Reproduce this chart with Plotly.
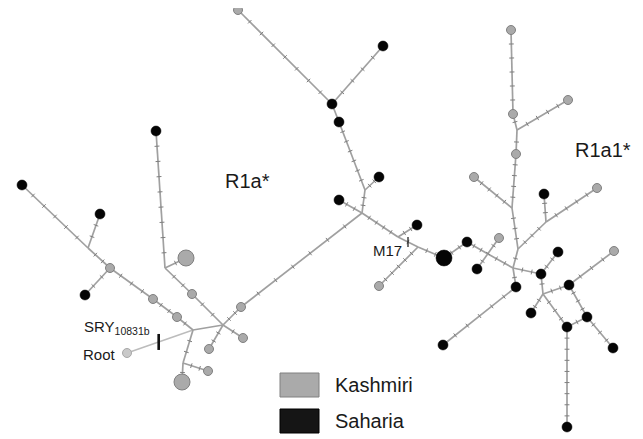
import math
import plotly.graph_objects as go

# ---------------- data ----------------
# population: K = Kashmiri, S = Saharia, J = median vector (no sample), R = root
node_ids = ["root", "j1", "j2", "k_a", "k_b", "k_c", "j3", "k_d", "k_e", "k_f",
            "j4", "k_g", "s_a", "k_h", "k_i", "k_j", "j5", "s_b", "s_c", "s_d",
            "c", "j6", "s_e", "s_f", "s_g", "s_h", "k_k", "s_i", "j7", "s_j",
            "j8", "k_l", "s_big", "s_k", "j9", "k_m", "s_l", "j10", "s_m", "s_n",
            "s_o", "j11", "j13", "k_r", "k_n", "j12", "k_o", "k_p", "k_q", "j14",
            "k_s", "s_p", "s_q", "j15", "s_r", "k_t", "s_s", "s_t", "s_u", "s_v", "s_w"]
node_x = [127, 193, 223, 241, 243, 209, 183, 182, 208, 192,
          165, 186, 156, 177, 153, 110, 88, 22, 100, 85,
          362, 365, 379, 339, 339, 332, 238, 383, 398, 417,
          418, 379, 444, 467, 488, 499, 477, 513, 541, 516,
          443, 518, 512, 474, 516, 517, 513, 568, 511, 546,
          597, 544, 558, 543, 569, 614, 531, 567, 587, 613, 567]
node_y = [353, 330, 325, 307, 338, 349, 363, 382, 371, 294,
          268, 258, 131, 317, 299, 268, 248, 185, 214, 295,
          213, 190, 177, 200, 122, 104, 10, 46, 237, 225,
          247, 286, 258, 242, 254, 238, 269, 268, 274, 287,
          345, 249, 208, 177, 154, 130, 114, 100, 30, 222,
          188, 194, 252, 294, 285, 251, 313, 327, 317, 348, 427]
node_pop = ["R", "J", "J", "K", "K", "K", "J", "K", "K", "K",
            "J", "K", "S", "K", "K", "K", "J", "S", "S", "S",
            "J", "J", "S", "S", "S", "S", "K", "S", "J", "S",
            "J", "K", "S", "S", "J", "K", "S", "J", "S", "S",
            "S", "J", "J", "K", "K", "J", "K", "K", "K", "J",
            "K", "S", "S", "J", "S", "K", "S", "S", "S", "S", "S"]
node_big = {"k_d", "k_g", "s_big"}

# edges: (from, to, number of mutation steps marked on the link)
edge_from = ["j1", "j2", "k_a", "j2", "j2", "j1", "j3", "j3", "j2", "k_f",
             "j4", "j4", "j1", "k_h", "k_i", "k_j", "j5", "j5", "k_j", "c",
             "j6", "j6", "s_g", "s_h", "s_h", "c", "c", "j7", "j7", "j8",
             "j8", "s_big", "s_k", "j9", "k_m", "j10", "j10", "s_n", "j10", "j11",
             "j13", "j13", "k_n", "j12", "j12", "k_o", "j11", "j14", "j14", "s_m",
             "s_m", "j15", "s_r", "j15", "j15", "s_r", "s_t", "s_u", "s_t"]
edge_to = ["j2", "k_a", "c", "k_b", "k_c", "j3", "k_d", "k_e", "k_f", "j4",
           "k_g", "s_a", "k_h", "k_i", "k_j", "j5", "s_b", "s_c", "s_d", "j6",
           "s_e", "s_g", "s_h", "k_k", "s_i", "s_f", "j7", "s_j", "j8", "k_l",
           "s_big", "s_k", "j9", "j10", "s_l", "s_m", "s_n", "s_o", "j11", "j13",
           "k_r", "k_n", "j12", "k_o", "k_p", "k_q", "j14", "k_s", "s_p", "s_q",
           "j15", "s_r", "k_t", "s_s", "s_t", "s_u", "s_u", "s_v", "s_w"]
edge_steps = [0, 2, 6, 1, 2, 2, 1, 2, 2, 2,
              1, 8, 1, 2, 3, 2, 5, 2, 2, 2,
              2, 6, 0, 7, 4, 2, 4, 2, 1, 5,
              2, 2, 2, 2, 3, 2, 1, 5, 1, 3,
              4, 4, 1, 1, 4, 5, 3, 4, 2, 2,
              1, 2, 3, 2, 3, 3, 1, 3, 8]

root_link = ("root", "j1")
mutation_labels = ["SRY<sub>10831b</sub>", "M17"]

clade_labels = ["R1a*", "R1a1*"]
clade_x = [247, 603]
clade_y = [181, 150]

legend_names = ["Kashmiri", "Saharia"]

# ---------------- build ----------------
pos = {n: (x, y) for n, x, y in zip(node_ids, node_x, node_y)}
EDGE_COL = "#a0a0a0"
K_FILL, K_LINE = "#aaaaaa", "#808080"
S_FILL = "#050505"
FONT = "Liberation Sans, Arial, Helvetica, sans-serif"

fig = go.Figure()

rx0, ry0 = pos[root_link[0]]
rx1, ry1 = pos[root_link[1]]
fig.add_trace(go.Scatter(x=[rx0, rx1], y=[ry0, ry1], mode="lines",
                         line=dict(color="#bcbcbc", width=1.4), hoverinfo="skip"))

ex, ey = [], []
tx, ty, tang = [], [], []
for a, b, n in zip(edge_from, edge_to, edge_steps):
    x0, y0 = pos[a]
    x1, y1 = pos[b]
    ex += [x0, x1, None]
    ey += [y0, y1, None]
    ang = math.degrees(math.atan2(y1 - y0, x1 - x0))
    for i in range(1, n + 1):
        t = i / (n + 1)
        tx.append(x0 + (x1 - x0) * t)
        ty.append(y0 + (y1 - y0) * t)
        tang.append(ang)

fig.add_trace(go.Scatter(x=ex, y=ey, mode="lines", cliponaxis=False,
                         line=dict(color=EDGE_COL, width=1.7), hoverinfo="skip"))
fig.add_trace(go.Scatter(x=tx, y=ty, mode="markers", hoverinfo="skip",
                         marker=dict(symbol="line-ns", size=3.5, angle=tang, opacity=1,
                                     line=dict(color="#7f7f7f", width=1))))

# mutation bars (SRY and M17)
sx, sy = pos["root"]
jx, jy = pos["j1"]
bx = sx + (jx - sx) * 0.48
by = sy + (jy - sy) * 0.48
fig.add_trace(go.Scatter(x=[bx, bx], y=[by - 8, by + 8], mode="lines",
                         line=dict(color="#111111", width=2.6), hoverinfo="skip"))
ax_, ay_ = pos["j7"]
bx2, by2 = pos["j8"]
mx = ax_ + (bx2 - ax_) * 0.5
my = ay_ + (by2 - ay_) * 0.5
fig.add_trace(go.Scatter(x=[mx, mx], y=[my - 5, my + 5], mode="lines",
                         line=dict(color="#111111", width=1.2), hoverinfo="skip"))

# nodes
for pop in ["R", "K", "S"]:
    xs, ys, sz = [], [], []
    for n, x, y, p in zip(node_ids, node_x, node_y, node_pop):
        if p == pop:
            xs.append(x)
            ys.append(y)
            sz.append(16 if n in node_big else (10 if pop == "S" else 9))
    if pop == "S":
        mk = dict(color=S_FILL, size=sz, opacity=1, line=dict(color="#000000", width=0.5))
    elif pop == "K":
        mk = dict(color=K_FILL, size=sz, opacity=1, line=dict(color=K_LINE, width=1))
    else:
        mk = dict(color="#c9c9c9", size=sz, opacity=1, line=dict(color="#a8a8a8", width=1))
    fig.add_trace(go.Scatter(x=xs, y=ys, mode="markers", marker=mk, cliponaxis=False,
                             hoverinfo="skip"))

# text labels
for t, x, y in zip(clade_labels, clade_x, clade_y):
    fig.add_annotation(x=x, y=y, text=t, showarrow=False,
                       font=dict(family=FONT, size=20, color="#1a1a1a"))
fig.add_annotation(x=82, y=327, text=mutation_labels[0], showarrow=False,
                   xanchor="left", yanchor="middle",
                   font=dict(family=FONT, size=15, color="#1a1a1a"))
fig.add_annotation(x=118, y=354, text="Root", showarrow=False,
                   xanchor="right", yanchor="middle",
                   font=dict(family=FONT, size=15, color="#1a1a1a"))
fig.add_annotation(x=404, y=250, text=mutation_labels[1], showarrow=False,
                   xanchor="right", yanchor="middle",
                   font=dict(family=FONT, size=15, color="#1a1a1a"))

# legend boxes
leg_y = [385, 421]
leg_fill = [K_FILL, "#151515"]
leg_line = [K_LINE, "#000000"]
for name, yc, fc, lc in zip(legend_names, leg_y, leg_fill, leg_line):
    fig.add_shape(type="rect", x0=280, x1=319, y0=yc - 12, y1=yc + 12,
                  fillcolor=fc, line=dict(color=lc, width=1))
    fig.add_annotation(x=333, y=yc, text=name, showarrow=False,
                       xanchor="left", yanchor="middle",
                       font=dict(family=FONT, size=20, color="#1a1a1a"))

# the page body has an 8px margin: the plot starts at pixel 8, so the
# visible coordinate window starts at 8 as well
fig.update_layout(
    width=635, height=431,
    margin=dict(l=0, r=0, t=0, b=0),
    paper_bgcolor="white", plot_bgcolor="white",
    showlegend=False,
    xaxis=dict(range=[8, 643], visible=False, fixedrange=True),
    yaxis=dict(range=[439, 8], visible=False, fixedrange=True),
)

fig.write_html("out.html")
